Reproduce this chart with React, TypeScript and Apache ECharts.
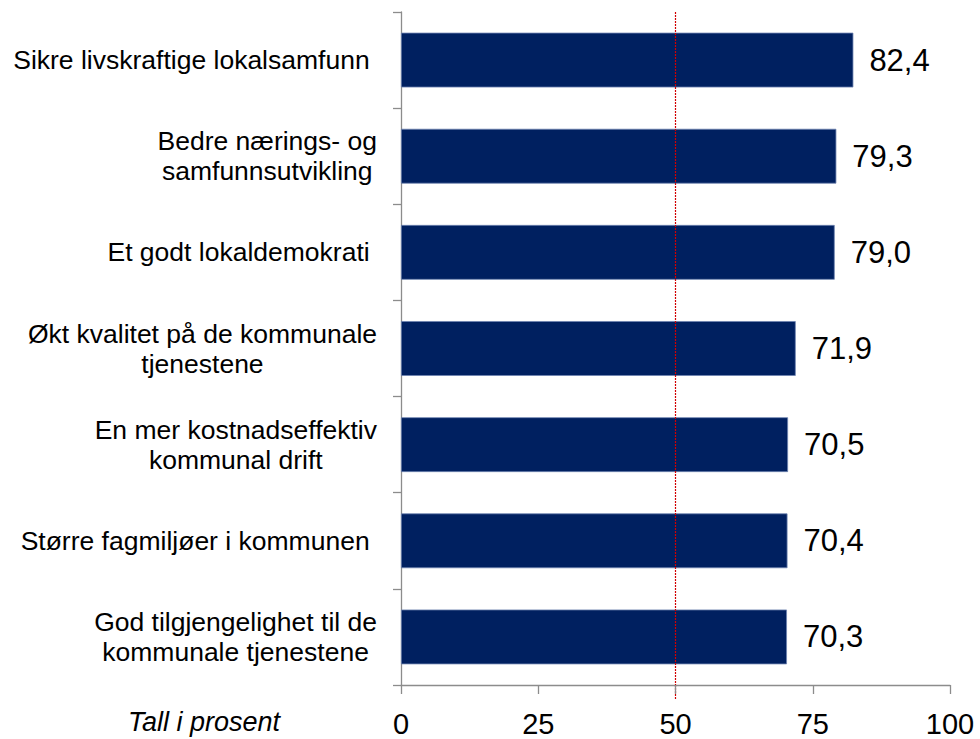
import React, { useEffect, useRef } from "react";
import * as echarts from "echarts";

const categories: string[] = [
  "Sikre livskraftige lokalsamfunn ",
  "Bedre nærings- og\nsamfunnsutvikling",
  "Et godt lokaldemokrati ",
  "Økt kvalitet på de kommunale\ntjenestene",
  "En mer kostnadseffektiv\nkommunal drift",
  "Større fagmiljøer i kommunen ",
  "God tilgjengelighet til de\nkommunale tjenestene",
];
const values: number[] = [82.4, 79.3, 79.0, 71.9, 70.5, 70.4, 70.3];
const xTicks = { min: 0, max: 100, interval: 25 };
const referenceValue = 50;
const axisTitle = "Tall i prosent";

const FONT = "'Liberation Sans', Arial, Helvetica, sans-serif";
const W = 980;
const H = 739;
const GRID = { left: 401, right: 30, top: 12, bottom: 54 };

export default function App() {
  const ref = useRef<HTMLDivElement>(null);
  useEffect(() => {
    if (!ref.current) return;
    const chart = echarts.init(ref.current, undefined, { renderer: "svg" });
    const option: any = {
      animation: false,
      backgroundColor: "#ffffff",
      textStyle: { fontFamily: FONT },
      grid: { ...GRID, containLabel: false },
      xAxis: {
        type: "value",
        min: xTicks.min,
        max: xTicks.max,
        interval: xTicks.interval,
        splitLine: { show: false },
        axisLine: { show: true, lineStyle: { color: "#8c8c8c", width: 1.3 } },
        axisTick: { show: true, length: 9, lineStyle: { color: "#8c8c8c", width: 1.3 } },
        axisLabel: { color: "#000", fontSize: 29, margin: 24, fontFamily: FONT },
      },
      yAxis: {
        type: "category",
        data: categories,
        inverse: true,
        axisLine: { show: true, lineStyle: { color: "#8c8c8c", width: 1.3 } },
        axisTick: { show: true, length: 8, lineStyle: { color: "#8c8c8c", width: 1.3 } },
        axisLabel: {
          color: "#000",
          fontSize: 26.5,
          lineHeight: 30,
          margin: 24,
          fontFamily: FONT,
          formatter: (v: string) =>
            v
              .split("\n")
              .map((l) => `{c|${l}}`)
              .join("\n"),
          rich: {
            c: { align: "center", fontSize: 26.5, lineHeight: 30, color: "#000", fontFamily: FONT },
          },
        },
      },
      series: [
        {
          type: "bar",
          data: values,
          barWidth: "57%",
          itemStyle: { color: "#002060", borderColor: "#6d83b0", borderWidth: 0.8 },
          label: {
            show: true,
            position: "right",
            distance: 16,
            color: "#000",
            fontSize: 31,
            fontFamily: FONT,
            formatter: (p: any) => p.value.toFixed(1).replace(".", ","),
          },
          markLine: {
            silent: true,
            symbol: "none",
            label: { show: false },
            lineStyle: { color: "#d00000", type: [2, 1], width: 1.2, opacity: 1 },
            emphasis: { disabled: true },
            data: [{ xAxis: referenceValue }],
          },
        },
      ],
    };
    chart.setOption(option);
    const px = chart.convertToPixel({ xAxisIndex: 0 }, referenceValue) as number;
    const axisY = H - GRID.bottom;
    chart.setOption({
      graphic: [
        {
          type: "line",
          silent: true,
          shape: { x1: px, y1: axisY, x2: px, y2: axisY + 14 },
          style: { stroke: "#d00000", lineWidth: 1.2, lineDash: [2, 1] },
        },
        {
          type: "text",
          x: 280,
          y: 722,
          style: {
            text: axisTitle,
            fontSize: 27,
            fontStyle: "italic",
            fontFamily: FONT,
            fill: "#000",
            align: "right",
            verticalAlign: "middle",
          },
        },
      ],
    });
    return () => chart.dispose();
  }, []);
  return (
    <div
      ref={ref}
      style={{ position: "absolute", left: 0, top: 0, width: W, height: H }}
    />
  );
}
